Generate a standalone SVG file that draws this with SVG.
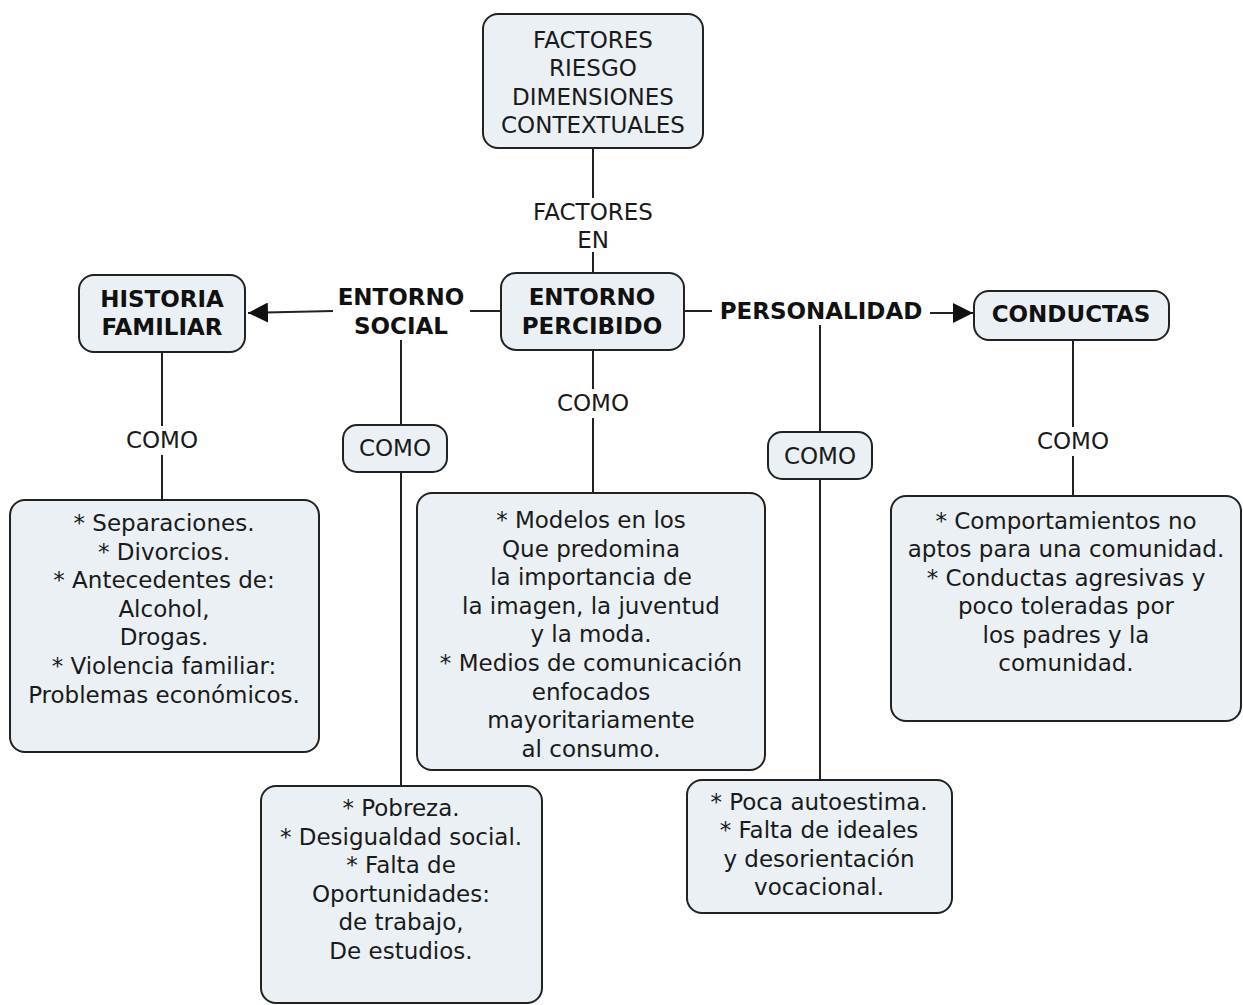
<svg xmlns="http://www.w3.org/2000/svg" width="1243" height="1005" viewBox="0 0 1243 1005">
<defs>
<style>
.box{fill:#eaf0f3;stroke:#222;stroke-width:2}
.t{font-family:"DejaVu Sans","Verdana",sans-serif;font-size:23px;fill:#1a1a1a;text-anchor:middle}
.b{font-family:"DejaVu Sans","Verdana",sans-serif;font-size:23px;font-weight:bold;fill:#111;text-anchor:middle}
.c{stroke:#222;stroke-width:2;fill:none}
</style>
<marker id="ah" viewBox="0 0 20 20" refX="20" refY="10" markerWidth="20" markerHeight="20" markerUnits="userSpaceOnUse" orient="auto">
<path d="M0,0 L20,10 L0,20 Z" fill="#111"/>
</marker>
</defs>
<rect width="1243" height="1005" fill="#fff"/>
<g id="connectors">
<line class="c" x1="593" y1="148" x2="593" y2="198"/>
<line class="c" x1="593" y1="252" x2="593" y2="273"/>
<line class="c" x1="501" y1="311" x2="470" y2="311"/>
<line class="c" x1="333" y1="311" x2="248" y2="313" marker-end="url(#ah)"/>
<line class="c" x1="401" y1="340" x2="401" y2="425"/>
<line class="c" x1="401" y1="472" x2="401" y2="786"/>
<line class="c" x1="162" y1="352" x2="162" y2="426"/>
<line class="c" x1="162" y1="455" x2="162" y2="500"/>
<line class="c" x1="593" y1="350" x2="593" y2="389"/>
<line class="c" x1="593" y1="418" x2="593" y2="493"/>
<line class="c" x1="684" y1="311" x2="712" y2="311"/>
<line class="c" x1="930" y1="313" x2="973" y2="313" marker-end="url(#ah)"/>
<line class="c" x1="820" y1="325" x2="820" y2="432"/>
<line class="c" x1="820" y1="479" x2="820" y2="780"/>
<line class="c" x1="1073" y1="340" x2="1073" y2="427"/>
<line class="c" x1="1073" y1="456" x2="1073" y2="496"/>
</g>
<g id="factores-riesgo">
<rect class="box" x="483" y="14" width="220" height="134" rx="15"/>
<text class="t" x="593" y="48">FACTORES</text>
<text class="t" x="593" y="76">RIESGO</text>
<text class="t" x="593" y="105">DIMENSIONES</text>
<text class="t" x="593" y="133">CONTEXTUALES</text>
</g>
<g id="label-factores-en">
<text class="t" x="593" y="220">FACTORES</text>
<text class="t" x="593" y="248">EN</text>
</g>
<g id="entorno-percibido">
<rect class="box" x="501" y="273" width="183" height="77" rx="15"/>
<text class="b" x="592" y="305">ENTORNO</text>
<text class="b" x="592" y="334">PERCIBIDO</text>
</g>
<g id="historia-familiar">
<rect class="box" x="79" y="275" width="166" height="77" rx="15"/>
<text class="b" x="162" y="307">HISTORIA</text>
<text class="b" x="162" y="335">FAMILIAR</text>
</g>
<g id="label-entorno-social">
<text class="b" x="401" y="305">ENTORNO</text>
<text class="b" x="401" y="334">SOCIAL</text>
</g>
<g id="label-personalidad">
<text class="b" x="821" y="319">PERSONALIDAD</text>
</g>
<g id="conductas">
<rect class="box" x="974" y="291" width="195" height="49" rx="15"/>
<text class="b" x="1071" y="322">CONDUCTAS</text>
</g>
<g id="label-como-1"><text class="t" x="162" y="448">COMO</text></g>
<g id="label-como-2"><text class="t" x="593" y="411">COMO</text></g>
<g id="label-como-3"><text class="t" x="1073" y="449">COMO</text></g>
<g id="como-social">
<rect class="box" x="343" y="425" width="104" height="47" rx="14"/>
<text class="t" x="395" y="456">COMO</text>
</g>
<g id="como-personalidad">
<rect class="box" x="768" y="432" width="104" height="47" rx="14"/>
<text class="t" x="820" y="464">COMO</text>
</g>
<g id="historia-items">
<rect class="box" x="10" y="500" width="309" height="252" rx="15"/>
<text class="t" x="164" y="531">* Separaciones.</text>
<text class="t" x="164" y="559.6">* Divorcios.</text>
<text class="t" x="164" y="588.2">* Antecedentes de:</text>
<text class="t" x="164" y="616.8">Alcohol,</text>
<text class="t" x="164" y="645.4">Drogas.</text>
<text class="t" x="164" y="674">* Violencia familiar:</text>
<text class="t" x="164" y="702.6">Problemas económicos.</text>
</g>
<g id="percibido-items">
<rect class="box" x="417" y="493" width="348" height="277" rx="15"/>
<text class="t" x="591" y="528">* Modelos en los</text>
<text class="t" x="591" y="556.6">Que predomina</text>
<text class="t" x="591" y="585.2">la importancia de</text>
<text class="t" x="591" y="613.8">la imagen, la juventud</text>
<text class="t" x="591" y="642.4">y la moda.</text>
<text class="t" x="591" y="671">* Medios de comunicación</text>
<text class="t" x="591" y="699.6">enfocados</text>
<text class="t" x="591" y="728.2">mayoritariamente</text>
<text class="t" x="591" y="756.8">al consumo.</text>
</g>
<g id="social-items">
<rect class="box" x="261" y="786" width="281" height="217" rx="15"/>
<text class="t" x="401" y="816">* Pobreza.</text>
<text class="t" x="401" y="844.6">* Desigualdad social.</text>
<text class="t" x="401" y="873.2">* Falta de</text>
<text class="t" x="401" y="901.8">Oportunidades:</text>
<text class="t" x="401" y="930.4">de trabajo,</text>
<text class="t" x="401" y="959">De estudios.</text>
</g>
<g id="personalidad-items">
<rect class="box" x="687" y="780" width="265" height="133" rx="15"/>
<text class="t" x="819" y="810">* Poca autoestima.</text>
<text class="t" x="819" y="838.4">* Falta de ideales</text>
<text class="t" x="819" y="866.8">y desorientación</text>
<text class="t" x="819" y="895.2">vocacional.</text>
</g>
<g id="conductas-items">
<rect class="box" x="891" y="496" width="350" height="225" rx="15"/>
<text class="t" x="1066" y="529">* Comportamientos no</text>
<text class="t" x="1066" y="557.4">aptos para una comunidad.</text>
<text class="t" x="1066" y="585.8">* Conductas agresivas y</text>
<text class="t" x="1066" y="614.2">poco toleradas por</text>
<text class="t" x="1066" y="642.6">los padres y la</text>
<text class="t" x="1066" y="671">comunidad.</text>
</g>
</svg>
